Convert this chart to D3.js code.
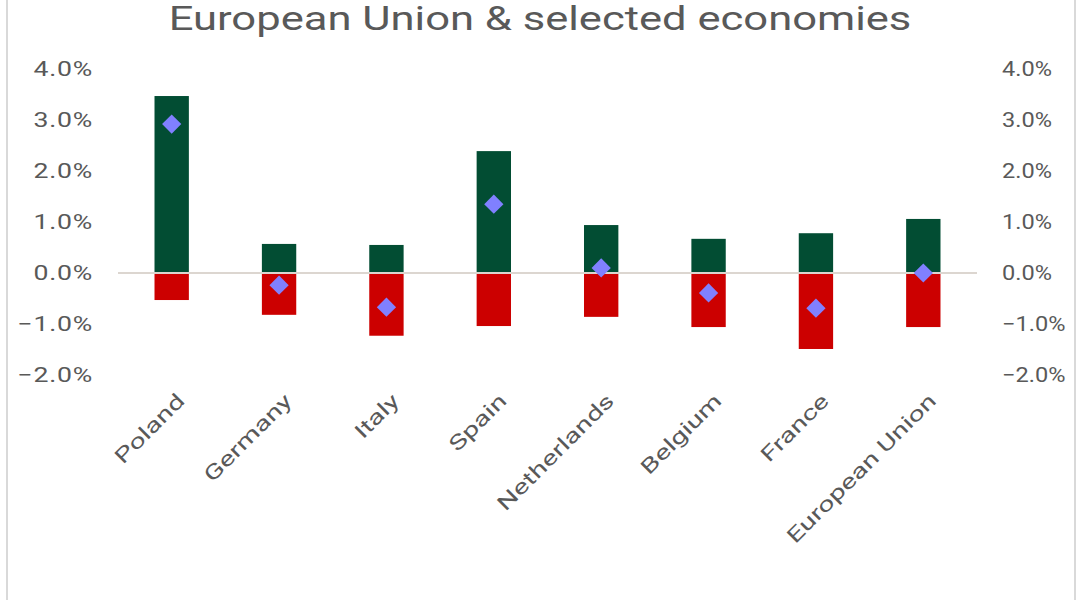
<!DOCTYPE html>
<html>
<head>
<meta charset="utf-8">
<style>
  body { margin: 0; background: #fff; }
  text { font-family: Roboto, "Noto Sans", sans-serif; fill: #595959; }
</style>
</head>
<body>
<svg id="chart" width="1082" height="600"></svg>
<script src="https://cdnjs.cloudflare.com/ajax/libs/d3/7.8.5/d3.min.js"></script>
<script>
// values, in percent
var categories = ["Poland", "Germany", "Italy", "Spain", "Netherlands", "Belgium", "France", "European Union"];
var positiveValues = [3.47, 0.57, 0.55, 2.39, 0.94, 0.67, 0.78, 1.06];
var negativeValues = [-0.53, -0.82, -1.23, -1.04, -0.86, -1.06, -1.49, -1.06];
var netValues = [2.92, -0.24, -0.67, 1.35, 0.10, -0.39, -0.69, 0.00];
var yTicks = [-2, -1, 0, 1, 2, 3, 4];
var title = "European Union & selected economies";

var svg = d3.select("#chart");

var x = d3.scaleBand().domain(categories).range([118, 977]);
var y = d3.scaleLinear().domain([-2, 4]).range([375, 69]);
var barW = x.bandwidth() * 0.32;
var fmt = function(d) { return d3.format(".1f")(d) + "%"; };

// chart frame (only the sides are visible)
svg.append("line").attr("x1", 7).attr("x2", 7).attr("y1", 0).attr("y2", 600)
  .style("stroke", "#d9d9d9").style("stroke-width", 2);
svg.append("line").attr("x1", 1075).attr("x2", 1075).attr("y1", 0).attr("y2", 600)
  .style("stroke", "#d9d9d9").style("stroke-width", 2);

// title (sits right at the top edge)
svg.append("text")
  .attr("transform", "translate(540,30) scale(1.3,1)")
  .attr("text-anchor", "middle")
  .style("font-size", "33.5px")
  .text(title);

// axes - left labels are drawn wider than the right ones in the reference
var yLeft = d3.axisLeft(y).tickValues(yTicks).tickFormat(fmt).tickSize(0);
var yRight = d3.axisRight(y).tickValues(yTicks).tickFormat(fmt).tickSize(0);

var gl = svg.append("g").attr("transform", "translate(93,0)").call(yLeft);
var gr = svg.append("g").attr("transform", "translate(1002,0)").call(yRight);
gl.select(".domain").remove();
gr.select(".domain").remove();
gl.selectAll("text")
  .attr("x", 0)
  .attr("transform", "scale(1.3,1)")
  .style("letter-spacing", "0.6px")
  .style("font-size", "20.5px")
  .style("fill", "#595959");
gr.selectAll("text")
  .attr("x", 0)
  .attr("transform", "scale(1.15,1)")
  .style("font-size", "20.5px")
  .style("fill", "#595959");

// bars
svg.append("g").selectAll("rect.pos")
  .data(positiveValues).enter()
  .append("rect")
    .attr("x", (d, i) => x(categories[i]) + x.bandwidth() / 2 - barW / 2)
    .attr("y", d => y(d))
    .attr("width", barW)
    .attr("height", d => y(0) - y(d))
    .style("fill", "#024d33");

svg.append("g").selectAll("rect.neg")
  .data(negativeValues).enter()
  .append("rect")
    .attr("x", (d, i) => x(categories[i]) + x.bandwidth() / 2 - barW / 2)
    .attr("y", y(0))
    .attr("width", barW)
    .attr("height", d => y(d) - y(0))
    .style("fill", "#cc0000");

// zero line
svg.append("line")
  .attr("x1", 118).attr("x2", 977)
  .attr("y1", y(0)).attr("y2", y(0))
  .style("stroke", "#dcd6d0")
  .style("stroke-width", 2);

// net markers
svg.append("g").selectAll("path")
  .data(netValues).enter()
  .append("path")
    .attr("d", d3.symbol(d3.symbolSquare, 185))
    .attr("transform", (d, i) => "translate(" + (x(categories[i]) + x.bandwidth() / 2) + "," + y(d) + ") rotate(45)")
    .style("fill", "#8080ff");

// category labels
svg.append("g").selectAll("text")
  .data(categories).enter()
  .append("text")
    .attr("transform", d => "translate(" + (x(d) + x.bandwidth() / 2 + 4) + ",392) rotate(-45) scale(1.4,1)")
    .attr("text-anchor", "end")
    .attr("dy", "0.7em")
    .style("font-size", "20.5px")
    .text(d => d);
</script>
</body>
</html>
